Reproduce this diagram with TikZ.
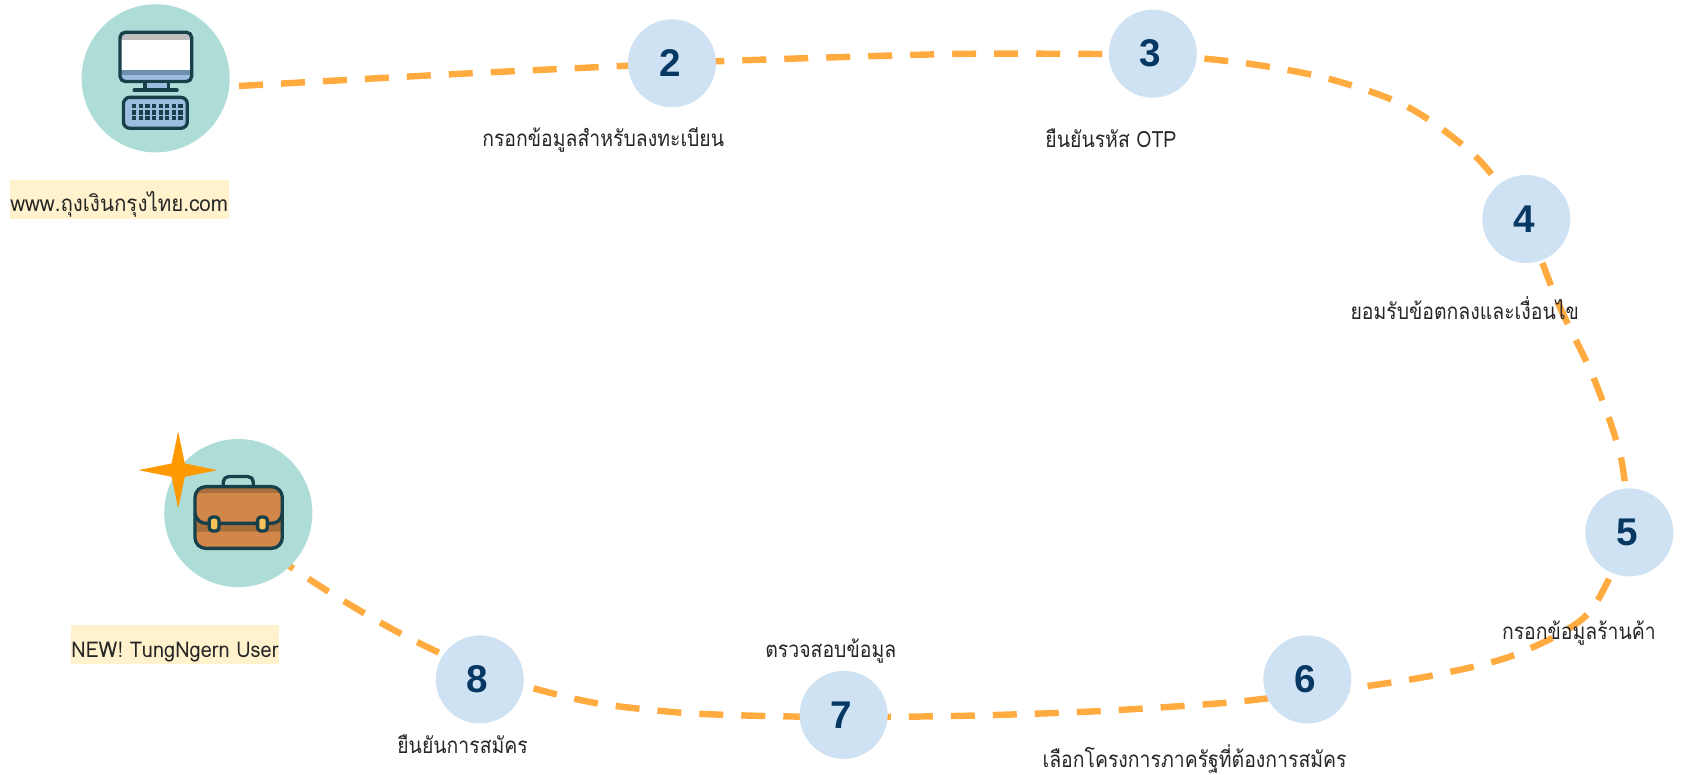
\documentclass[tikz,border=0pt]{standalone}
\usepackage{fontspec}
\usetikzlibrary{backgrounds,calc}
\newfontfamily\thaifont[Script=Thai,FakeStretch=0.87]{Loma}
\newfontfamily\tagfont[Script=Thai,FakeStretch=0.92]{Loma}
\setmainfont{Liberation Sans}
\definecolor{teal}{HTML}{ADDDD6}
\definecolor{pale}{HTML}{CFE2F3}
\definecolor{route}{HTML}{FFAB40}
\definecolor{ink}{HTML}{17404A}
\definecolor{num}{HTML}{073763}
\definecolor{tag}{HTML}{FFF2CC}
\definecolor{scr}{HTML}{9DBDE0}
\definecolor{scrd}{HTML}{6E8EAE}
\definecolor{brown}{HTML}{D2874A}
\definecolor{brownd}{HTML}{A86F3D}
\definecolor{gold}{HTML}{F6C35B}
\definecolor{star}{HTML}{FF9900}
\tikzset{
  stepdot/.style={circle,fill=pale,minimum size=41pt,inner sep=0pt,text=num,font=\fontsize{18}{20}\selectfont\bfseries,execute at begin node=\kern-2pt},
  bigdot/.style={circle,fill=teal,minimum size=69pt,inner sep=0pt},
  captext/.style={inner sep=0pt,font=\thaifont\fontsize{10.4}{12}\selectfont,text=black!85},
  tagbox/.style={fill=tag,inner sep=0pt,anchor=center,font=\tagfont\fontsize{10.4}{12}\selectfont,text=black!85},
  routeline/.style={route,line width=3pt,dash pattern=on 11.18pt off 8.39pt,dash phase=#1},
  routeline/.default=0pt,
  icon/.style={draw=ink,line width=1.55pt,line join=round}
}
\begin{document}
\begin{tikzpicture}[x=0.5pt,y=-0.5pt]
\useasboundingbox (0,0) rectangle (1568,722);
\node[bigdot] (n1) at (145,73) {};
\node[bigdot] (n9) at (222,478) {};
\node[stepdot] (n2) at (626,59) {2};
\node[stepdot] (n3) at (1074,50) {3};
\node[stepdot] (n4) at (1422,204) {4};
\node[stepdot] (n5) at (1518,496) {5};
\node[stepdot] (n6) at (1218,633) {6};
\node[stepdot] (n7) at (786,666) {7};
\node[stepdot] (n8) at (447,633) {8};
\coordinate (s) at (222.7,80.1);
\coordinate (b1) at (418.3,69.3);
\coordinate (b2) at (585,61.2);
\coordinate (c1) at (691.6,56.2);
\coordinate (c2) at (887.3,50.3);
\coordinate (c3) at (1027,50.3);
\coordinate (d1) at (1161,59);
\coordinate (d2) at (1237.6,73.3);
\coordinate (d3) at (1311.2,99.4);
\coordinate (d4) at (1374.3,145.3);
\coordinate (e1) at (1451,281);
\coordinate (e2) at (1484.5,351.5);
\coordinate (e3) at (1510,425.5);
\coordinate (f1) at (1479.9,571.4);
\coordinate (f2) at (1412.2,609.7);
\coordinate (f3) at (1337,628.9);
\coordinate (f4) at (1259.4,641.3);
\coordinate (g0) at ($(n6)+(0,13)$);
\coordinate (g1) at (1142.9,654.7);
\coordinate (g2) at (1025.8,662.4);
\coordinate (g3) at (925.5,666.2);
\coordinate (g4) at (847,667.7);
\coordinate (h0) at ($(n7)+(0,2)$);
\coordinate (h1) at (713,667.1);
\coordinate (h2) at (634.5,664);
\coordinate (h3) at (556.8,655.3);
\coordinate (h4) at (496.9,641.3);
\coordinate (i0) at ($(n8)+(0,-7)$);
\coordinate (i1) at (373.9,590.7);
\coordinate (i2) at (306.2,551.3);
\coordinate (i3) at ($(n9)+(10,24)$);
\begin{scope}[on background layer]
\draw[routeline] plot[smooth] coordinates {(s) (b1) (b2) (n2.center)};
\draw[routeline=6.34pt] plot[smooth] coordinates {(n2.center) (c1) (c2) (c3) (n3.center)};
\draw[routeline=15pt] plot[smooth] coordinates {(n3.center) (d1) (d2) (d3) (d4) (n4.center)};
\draw[routeline=17.3pt] plot[smooth] coordinates {(n4.center) (e1) (e2) (e3) (n5.center)};
\draw[routeline=15.5pt] plot[smooth] coordinates {(n5.center) (f1) (f2) (f3) (f4) (g0)};
\draw[routeline=1.22pt] plot[smooth] coordinates {(g0) (g1) (g2) (g3) (g4) (h0)};
\draw[routeline=2.62pt] plot[smooth] coordinates {(h0) (h1) (h2) (h3) (h4) (i0)};
\draw[routeline=18.02pt] plot[smooth] coordinates {(i0) (i1) (i2) (i3)};
\end{scope}
% computer
\fill[white,rounded corners=2.5pt] (111.8,30) rectangle (178.6,76);
\fill[black!25] (113,31.2) rectangle (177.4,37);
\fill[scrd] (113,65) rectangle (177.4,70);
\fill[scr] (113,70) rectangle (177.4,75);
\draw[icon,rounded corners=2.5pt] (111.8,30) rectangle (178.6,76);
\draw[icon,fill=scr] (135,76) rectangle (157,84);
\draw[icon,line cap=round] (125,84) -- (165,84);
\draw[icon,fill=scr,rounded corners=3pt] (115,90.7) rectangle (174.5,119.5);
\foreach \r in {98.8,104.7,110.2}{\foreach \c in {0,...,7}{\fill[ink] (124.9+\c*6.2-2,\r-2) rectangle ++(4,4);}}
% briefcase
\draw[icon,rounded corners=2.5pt] (208,453.4) -- (208,444) -- (236,444) -- (236,453.4);
\fill[brown,rounded corners=5pt] (181.7,453.4) rectangle (263,510.9);
\fill[brownd] (184,454.5) rectangle (261,459.5);
\fill[brownd] (183,483) .. controls (185,488) and (189,488) .. (193,488) -- (252,488) .. controls (256,488) and (260,488) .. (262,483) -- (262,495.4) -- (183,495.4) -- cycle;
\draw[icon] (181.7,478) .. controls (183,485) and (187,487.6) .. (193,487.6) -- (252,487.6) .. controls (258,487.6) and (262,485) .. (263,478);
\draw[icon,rounded corners=5pt] (181.7,453.4) rectangle (263,510.9);
\draw[icon,fill=gold,rounded corners=1.5pt] (195,481.7) rectangle (204,494.7);
\draw[icon,fill=gold,rounded corners=1.5pt] (240,481.7) rectangle (249,494.7);
% star
\fill[star] (166,402) -- (172.2,431.8) -- (202.5,438) -- (172.2,444.2) -- (166,473.6) -- (159.8,444.2) -- (129,438) -- (159.8,431.8) -- cycle;
% labels
\node[tagbox,minimum width=102pt,minimum height=18pt,text height=13pt,text depth=2pt] (t1) at (111,186) {www.ถุงเงินกรุงไทย.com};
\node[tagbox,font=\tagfont\fontsize{10.1}{12}\selectfont,minimum width=97pt,minimum height=18.5pt,text height=14pt,text depth=2pt] (t9) at (163,600.5) {NEW! TungNgern User};
\node[captext] (c2x) at (562,130) {กรอกข้อมูลสำหรับลงทะเบียน};
\node[captext] (c3x) at (1035,129) {ยืนยันรหัส OTP};
\node[captext] (c4x) at (1364.6,287) {ยอมรับข้อตกลงและเงื่อนไข};
\node[captext] (c5x) at (1471,590) {กรอกข้อมูลร้านค้า};
\node[captext] (c6x) at (1113,707) {เลือกโครงการภาครัฐที่ต้องการสมัคร};
\node[captext] (c7x) at (774,607) {ตรวจสอบข้อมูล};
\node[captext] (c8x) at (431,693) {ยืนยันการสมัคร};
\end{tikzpicture}
\end{document}
